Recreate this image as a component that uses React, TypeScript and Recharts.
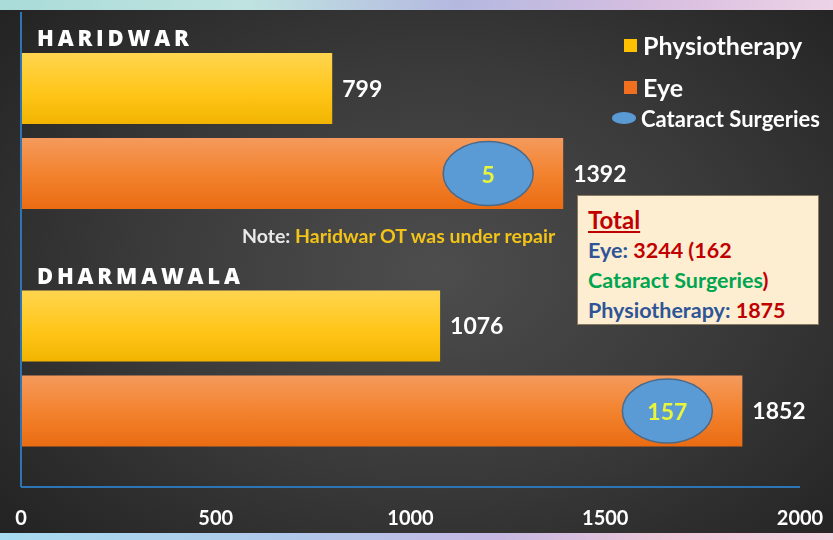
import { Bar, BarChart, LabelList, XAxis, YAxis } from "recharts";

const sites = ["HARIDWAR", "DHARMAWALA"];
const physiotherapy = [799, 1076];
const eye = [1392, 1852];
const cataract = [5, 157];
const xTicks = [0, 500, 1000, 1500, 2000];

const data = sites.map((site, i) => ({
  site,
  physio: physiotherapy[i],
  eye: eye[i],
  cataract: cataract[i],
}));

const font = "Lato, 'Open Sans', sans-serif";
const axisBlue = "#2e75b6";

// site name drawn just above the physiotherapy bar of each group
function SiteLabel({ x, y, value }: any) {
  return (
    <text
      x={x + 16}
      y={y - 16}
      fill="#ffffff"
      fontFamily="'Open Sans', sans-serif"
      fontWeight={800}
      fontSize={22}
      letterSpacing={3.8}
      dominantBaseline="central"
    >
      {value}
    </text>
  );
}

function CataractBubble({ x, y, width, height, value }: any) {
  const cx = x + width - 75;
  const cy = y + height / 2;
  return (
    <g>
      <ellipse cx={cx} cy={cy} rx={45} ry={32} fill="#5b9bd5" stroke="#4a6a8c" strokeWidth={1.5} />
      <text
        x={cx}
        y={cy}
        textAnchor="middle"
        dominantBaseline="central"
        fill="#e8f53a"
        fontFamily={font}
        fontWeight={700}
        fontSize={23}
      >
        {value}
      </text>
    </g>
  );
}

function LegendBox() {
  const row = { display: "flex", alignItems: "center", color: "#fff", fontWeight: 700 } as const;
  return (
    <div style={{ fontFamily: font, whiteSpace: "nowrap" }}>
      <div style={{ ...row, fontSize: 25, height: 30 }}>
        <span style={{ width: 13, height: 13, background: "#ffc000", marginRight: 6 }} />
        Physiotherapy
      </div>
      <div style={{ ...row, fontSize: 25, height: 30, marginTop: 12 }}>
        <span style={{ width: 13, height: 13, background: "#f07020", marginRight: 6 }} />
        Eye
      </div>
      <div style={{ ...row, fontSize: 22, height: 26, marginTop: 3, marginLeft: -12 }}>
        <span
          style={{ width: 24, height: 12, borderRadius: "50%", background: "#5b9bd5", marginRight: 5 }}
        />
        Cataract Surgeries
      </div>
    </div>
  );
}

export default function App() {
  return (
    <div
      style={{
        position: "fixed",
        left: 0,
        top: 0,
        width: 833,
        height: 540,
        overflow: "hidden",
        background:
          "radial-gradient(ellipse 70% 75% at 52% 50%, #4d4d4d 0%, #3a3a3a 50%, #222222 100%)",
      }}
    >
      <div
        style={{
          position: "absolute",
          left: 0,
          top: 0,
          width: 833,
          height: 10,
          background: "linear-gradient(90deg, #a9dbd8, #bfe3e0 30%, #b4b8e0 55%, #d9bfe0 80%, #ecd3e6)",
        }}
      />
      <div
        style={{
          position: "absolute",
          left: 0,
          top: 533,
          width: 833,
          height: 7,
          background: "linear-gradient(90deg, #a8dcef, #b0c8ea 35%, #c6b8e2 60%, #efc6d8 80%, #f2d2de)",
        }}
      />
      <BarChart
        width={833}
        height={540}
        data={data}
        layout="vertical"
        margin={{ top: 12, right: 33, left: 20, bottom: 0 }}
        barCategoryGap={41}
        barGap={14}
        style={{ position: "absolute", left: 0, top: 0 }}
      >
        <defs>
          <linearGradient id="physioFill" x1="0" y1="0" x2="0" y2="1">
            <stop offset="0%" stopColor="#ffd54f" />
            <stop offset="55%" stopColor="#ffc61a" />
            <stop offset="100%" stopColor="#f2b400" />
          </linearGradient>
          <linearGradient id="eyeFill" x1="0" y1="0" x2="0" y2="1">
            <stop offset="0%" stopColor="#f49a5c" />
            <stop offset="50%" stopColor="#f3832f" />
            <stop offset="100%" stopColor="#ea6c12" />
          </linearGradient>
        </defs>
        <XAxis
          type="number"
          domain={[0, 2000]}
          ticks={xTicks}
          height={53}
          axisLine={{ stroke: axisBlue, strokeWidth: 2 }}
          tickLine={false}
          tickMargin={18}
          tick={{ fill: "#ffffff", fontSize: 20, fontWeight: 700, fontFamily: font }}
          interval={0}
        />
        <YAxis
          type="category"
          dataKey="site"
          width={1}
          axisLine={{ stroke: axisBlue, strokeWidth: 2 }}
          tickLine={false}
          tick={false}
        />
        <Bar dataKey="physio" fill="url(#physioFill)" barSize={71} isAnimationActive={false}>
          <LabelList
            dataKey="physio"
            position="right"
            offset={10}
            fill="#ffffff"
            fontSize={23}
            fontWeight={700}
            fontFamily={font}
          />
          <LabelList dataKey="site" content={<SiteLabel />} />
        </Bar>
        <Bar dataKey="eye" fill="url(#eyeFill)" barSize={71} isAnimationActive={false}>
          <LabelList
            dataKey="eye"
            position="right"
            offset={10}
            fill="#ffffff"
            fontSize={23}
            fontWeight={700}
            fontFamily={font}
          />
          <LabelList dataKey="cataract" content={<CataractBubble />} />
        </Bar>
      </BarChart>
      <div style={{ position: "absolute", left: 624, top: 30 }}>
        <LegendBox />
      </div>
      <div
        style={{
          position: "absolute",
          left: 242,
          top: 224,
          fontFamily: font,
          fontWeight: 700,
          fontSize: 19.5,
          color: "#e8e8e8",
          whiteSpace: "nowrap",
        }}
      >
        Note: <span style={{ color: "#f2c318" }}>Haridwar OT was under repair</span>
      </div>
      <div
        style={{
          position: "absolute",
          left: 577,
          top: 195,
          width: 242,
          height: 130,
          boxSizing: "border-box",
          padding: "9px 0 0 10px",
          background: "#fdeed2",
          border: "1px solid #8a7a60",
          fontFamily: font,
          fontWeight: 700,
          fontSize: 21.5,
          lineHeight: "30px",
          whiteSpace: "nowrap",
        }}
      >
        <div style={{ color: "#c00000", fontSize: 24, textDecoration: "underline", lineHeight: "30px" }}>
          Total
        </div>
        <div>
          <span style={{ color: "#2f5597" }}>Eye: </span>
          <span style={{ color: "#c00000" }}>3244 (162</span>
        </div>
        <div>
          <span style={{ color: "#00a550" }}>Cataract Surgeries</span>
          <span style={{ color: "#c00000" }}>)</span>
        </div>
        <div>
          <span style={{ color: "#2f5597" }}>Physiotherapy: </span>
          <span style={{ color: "#c00000" }}>1875</span>
        </div>
      </div>
    </div>
  );
}
